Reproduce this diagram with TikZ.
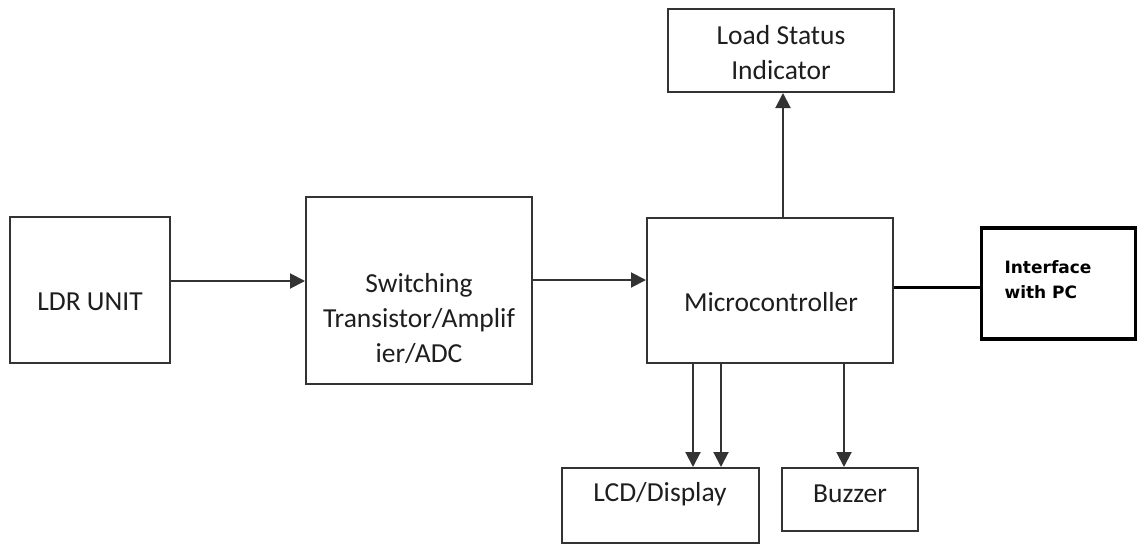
\documentclass[tikz,border=0pt]{standalone}
\usepackage{fontspec}
\setmainfont{Carlito}
\newfontfamily\pcfont{DejaVu Sans}
\usetikzlibrary{arrows.meta}
\definecolor{linegray}{HTML}{333333}
\definecolor{txtgray}{HTML}{1E1E1E}
\tikzset{
  block/.style={draw=linegray, line width=2pt, fill=white, inner sep=0pt},
  blocktext/.style={font=\fontsize{27.5}{35}\selectfont, text=txtgray, align=center},
  arr/.style={draw=linegray, line width=2pt, -{Triangle[length=15pt,width=15pt]}},
  heavybox/.style={draw=black, line width=3.5pt, fill=white, inner sep=0pt},
}
\begin{document}
\begin{tikzpicture}[x=1pt, y=-1pt]
\useasboundingbox (0,0) rectangle (1138,544);

% blocks
\node[block, minimum width=160pt, minimum height=146pt] (ldr) at (90,290) {};
\node[blocktext] (ldrtxt) at (90,302) {LDR UNIT};

\node[block, minimum width=226pt, minimum height=187pt] (sw) at (419,290.5) {};
\node[blocktext] (swtxt) at (419,319) {Switching\\Transistor/Amplif\\ier/ADC};

\node[block, minimum width=246pt, minimum height=145pt] (mcu) at (770,290.5) {};
\node[blocktext] (mcutxt) at (771,302) {Microcontroller};

\node[block, minimum width=226pt, minimum height=83pt] (load) at (781,50.5) {};
\node[blocktext] (loadtxt) at (781,53) {Load Status\\Indicator};

\node[block, minimum width=197pt, minimum height=75pt] (lcd) at (660.5,505.5) {};
\node[blocktext] (lcdtxt) at (660,494) {LCD/Display};

\node[block, minimum width=136pt, minimum height=63pt] (buz) at (850,499.5) {};
\node[blocktext] (buztxt) at (850,494) {Buzzer};

\node[heavybox, minimum width=154pt, minimum height=111pt] (pc) at (1058.5,283.5) {};
\node[font=\pcfont\bfseries\fontsize{17}{25}\selectfont, text=black, align=left, anchor=west] (pctxt) at (1001,280) {Interface\\with PC};

% reference positions for the connectors
\coordinate (yin) at (0,281);
\coordinate (yout) at (0,280);
\coordinate (xup) at (783,0);
\coordinate (xl1) at (693,0);
\coordinate (xl2) at (721,0);
\coordinate (xbz) at (844,0);
\coordinate (ypc) at (0,287);

% connectors
\draw[arr] (ldr.east |- yin) -- (sw.west |- yin);
\draw[arr] (sw.east |- yout) -- (mcu.west |- yout);
\draw[arr] (mcu.north -| xup) -- (load.south -| xup);
\draw[arr] (mcu.south -| xl1) -- (lcd.north -| xl1);
\draw[arr] (mcu.south -| xl2) -- (lcd.north -| xl2);
\draw[arr] (mcu.south -| xbz) -- (buz.north -| xbz);
\draw[black, line width=3pt] (mcu.east |- ypc) -- (pc.west |- ypc);
\end{tikzpicture}
\end{document}
